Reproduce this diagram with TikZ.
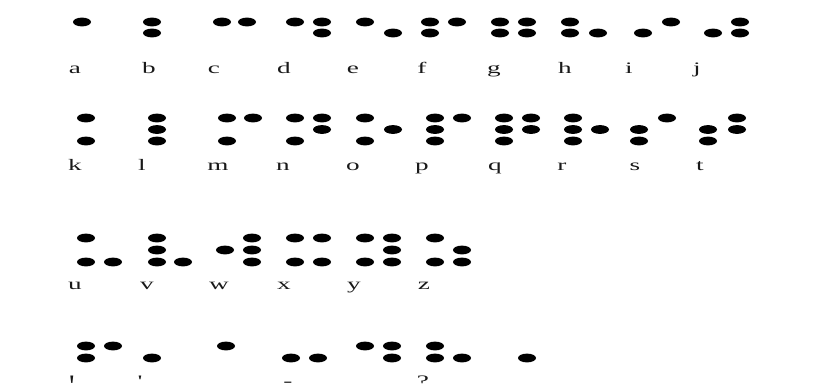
\documentclass[tikz,border=0pt]{standalone}
\usepackage{fontspec}
\newfontfamily\lblfont[FakeStretch=1.7]{Liberation Serif}
\tikzset{
  lbl/.style={anchor=base, inner sep=0pt, font=\lblfont\fontsize{16}{16}\selectfont, text=black!90},
  brdot/.style={fill=black}
}
\newcommand{\bd}[2]{\fill[brdot] (#1,#2) ellipse [x radius=9pt, y radius=4.4pt];}
\begin{document}
\begin{tikzpicture}[x=1pt,y=-1pt]
\useasboundingbox (0,0) rectangle (814,383);
% ---- row 1: a-j
\foreach \x/\y in {82/22, 152/22,152/33, 222/22,247/22, 295/22,322/22,322/33,
  365/22,393/33, 430/22,430/33,457/22, 500/22,500/33,527/22,527/33,
  570/22,570/33,598/33, 643/33,671/22, 713/33,740/22,740/33}{\bd{\x}{\y}}
\foreach \t/\x in {a/75,b/149,c/214,d/284,e/353,f/422,g/494,h/565,i/629,j/697}
  {\node[lbl] (l\t) at (\x,73.5) {\t};}
% ---- row 2: k-t
\foreach \x/\y in {86/118,86/141, 157/118,157/129.5,157/141, 227/118,227/141,253/118,
  295/118,295/141,322/118,322/129.5, 365/118,365/141,393/129.5,
  435/118,435/129.5,435/141,462/118, 504/118,504/129.5,504/141,531/118,531/129.5,
  573/118,573/129.5,573/141,600/129.5, 639/129.5,639/141,667/118,
  708/129.5,708/141,737/118,737/129.5}{\bd{\x}{\y}}
\foreach \t/\x in {k/75,l/142,m/218,n/283,o/353,p/422,q/495,r/562,s/635,t/700}
  {\node[lbl] (l\t) at (\x,170) {\t};}
% ---- row 3: u-z
\foreach \x/\y in {86/238,86/262,113/262, 157/238,157/250,157/262,183/262,
  225/250,252/238,252/250,252/262, 295/238,295/262,322/238,322/262,
  365/238,365/262,392/238,392/250,392/262, 435/238,435/262,462/250,462/262}{\bd{\x}{\y}}
\foreach \t/\x in {u/75,v/147,w/219,x/284,y/354,z/424}
  {\node[lbl] (l\t) at (\x,289) {\t};}
% ---- row 4: punctuation
\foreach \x/\y in {86/346,86/358,113/346, 152/358, 226/346, 291/358,318/358,
  365/346,392/346,392/358, 435/346,435/358,462/358, 527/358}{\bd{\x}{\y}}
\node[lbl] (pexcl) at (72,386) {!};
\node[lbl] (papos) at (140,386) {'};
\node[lbl] (pcomma) at (208,386) {,};
\node[lbl] (phyph) at (288,386) {-};
\node[lbl] (pstop) at (355,386) {.};
\node[lbl] (pquest) at (423,386) {?};
\end{tikzpicture}
\end{document}
